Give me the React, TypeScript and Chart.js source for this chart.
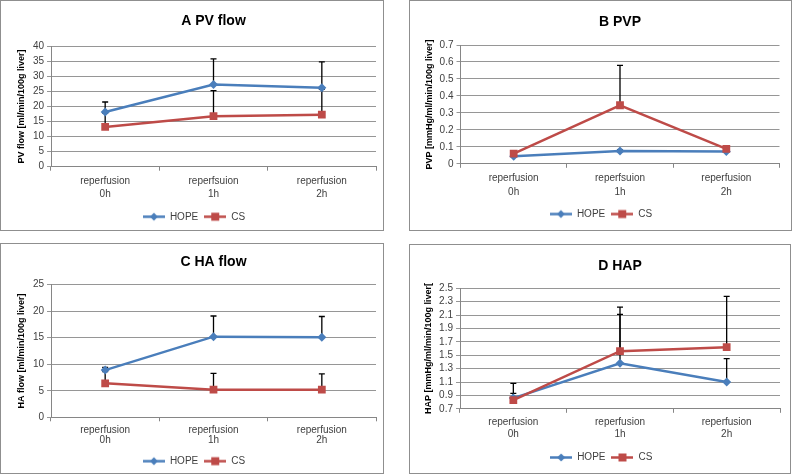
import React, { useEffect, useRef } from 'react';
import { Chart, registerables } from 'chart.js';

Chart.register(...registerables);

const FONT = "'Liberation Sans', Arial, sans-serif";

const seriesNames = ['HOPE', 'CS'];
const seriesColors = ['#4A7EBB', '#BE4B48'];

const labelsAB = [['reperfusion', '0h'], ['reperfsuion', '1h'], ['reperfusion', '2h']];
const labelsCD = [['reperfusion', '0h'], ['reperfusion', '1h'], ['reperfusion', '2h']];

// A PV flow
const pvFlowHope = [18.2, 27.3, 26.2];
const pvFlowHopeSd = [3.3, 8.5, 8.6];
const pvFlowCs = [13.2, 16.8, 17.3];
const pvFlowCsSd = [4.6, 8.5, 8.4];

// B PVP
const pvpHope = [0.045, 0.075, 0.072];
const pvpHopeSd = [0.005, 0.008, 0.008];
const pvpCs = [0.06, 0.345, 0.088];
const pvpCsSd = [0.008, 0.235, 0.008];

// C HA flow
const haFlowHope = [8.9, 15.2, 15.1];
const haFlowHopeSd = [0.5, 3.9, 3.9];
const haFlowCs = [6.4, 5.2, 5.2];
const haFlowCsSd = [2.2, 3.1, 3.0];

// D HAP
const hapHope = [0.86, 1.38, 1.1];
const hapHopeSd = [0.07, 0.73, 0.35];
const hapCs = [0.83, 1.56, 1.62];
const hapCsSd = [0.25, 0.66, 0.76];

type PanelCfg = {
  box: { left: number; top: number; width: number; height: number };
  title: string;
  yTitle: string;
  labels: string[][];
  hope: number[];
  hopeSd: number[];
  cs: number[];
  csSd: number[];
  yMin: number;
  yMax: number;
  yStep: number;
  pl: number; pr: number; pb: number;
  yWidth: number; yTitlePad: number;
  titlePadTop: number; titlePadBottom: number;
  xHeight: number; xPad: number; xLineHeight: number;
};

const panels: PanelCfg[] = [
  {
    box: { left: 0, top: 0, width: 384, height: 231 },
    title: 'A PV flow', yTitle: 'PV flow [ml/min/100g liver]', labels: labelsAB,
    hope: pvFlowHope, hopeSd: pvFlowHopeSd, cs: pvFlowCs, csSd: pvFlowCsSd,
    yMin: 0, yMax: 40, yStep: 5,
    pl: 11, pr: 7, pb: -1.75, yWidth: 39, yTitlePad: 4.6,
    titlePadTop: 11.9, titlePadBottom: 16.6, xHeight: 39.05, xPad: 3.45, xLineHeight: 13.5,
  },
  {
    box: { left: 409, top: 0, width: 383, height: 231 },
    title: 'B PVP', yTitle: 'PVP [mmHg/ml/min/100g liver]', labels: labelsAB,
    hope: pvpHope, hopeSd: pvpHopeSd, cs: pvpCs, csSd: pvpCsSd,
    yMin: 0, yMax: 0.7, yStep: 0.1,
    pl: 12.5, pr: 11.5, pb: 0.95, yWidth: 38, yTitlePad: 1.4,
    titlePadTop: 12.3, titlePadBottom: 14.9, xHeight: 39.25, xPad: 4.05, xLineHeight: 13.3,
  },
  {
    box: { left: 0, top: 243, width: 384, height: 231 },
    title: 'C HA flow', yTitle: 'HA flow [ml/min/100g liver]', labels: labelsCD,
    hope: haFlowHope, hopeSd: haFlowHopeSd, cs: haFlowCs, csSd: haFlowCsSd,
    yMin: 0, yMax: 25, yStep: 5,
    pl: 11, pr: 7, pb: -3.15, yWidth: 39, yTitlePad: 4.6,
    titlePadTop: 9.6, titlePadBottom: 14.3, xHeight: 32.85, xPad: 3.1, xLineHeight: 10.8,
  },
  {
    box: { left: 409, top: 244, width: 382, height: 230 },
    title: 'D HAP', yTitle: 'HAP [mmHg/ml/min/100g liver[', labels: labelsCD,
    hope: hapHope, hopeSd: hapHopeSd, cs: hapCs, csSd: hapCsSd,
    yMin: 0.7, yMax: 2.5, yStep: 0.2,
    pl: 12.5, pr: 10, pb: 0.55, yWidth: 37.5, yTitlePad: 1.1,
    titlePadTop: 12.6, titlePadBottom: 13.9, xHeight: 37.65, xPad: 3.6, xLineHeight: 11.6,
  },
];

function makeErrorBars(errors: number[][]) {
  return {
    id: 'errorBars',
    beforeDatasetsDraw(chart: any) {
      const y = chart.scales.y;
      const ctx = chart.ctx;
      ctx.save();
      ctx.strokeStyle = '#000000';
      ctx.lineWidth = 1.3;
      chart.data.datasets.forEach((ds: any, i: number) => {
        const meta = chart.getDatasetMeta(i);
        meta.data.forEach((pt: any, j: number) => {
          const v = ds.data[j];
          const e = errors[i][j];
          if (!e) return;
          const y0 = y.getPixelForValue(v);
          const y1 = y.getPixelForValue(v + e);
          const x = pt.x;
          ctx.beginPath();
          ctx.moveTo(x, y0);
          ctx.lineTo(x, y1);
          ctx.moveTo(x - 3, y1);
          ctx.lineTo(x + 3, y1);
          ctx.stroke();
        });
      });
      ctx.restore();
    },
  };
}

function makeLegendIcon(color: string, kind: 'diamond' | 'square') {
  const c = document.createElement('canvas');
  c.width = 22;
  c.height = 11;
  const ctx = c.getContext('2d')!;
  ctx.strokeStyle = color;
  ctx.lineWidth = 2.5;
  ctx.beginPath();
  ctx.moveTo(0, 5.5);
  ctx.lineTo(22, 5.5);
  ctx.stroke();
  ctx.fillStyle = color;
  ctx.beginPath();
  if (kind === 'diamond') {
    ctx.moveTo(11, 1.5);
    ctx.lineTo(15, 5.5);
    ctx.lineTo(11, 9.5);
    ctx.lineTo(7, 5.5);
    ctx.closePath();
  } else {
    ctx.rect(7, 1.5, 8, 8);
  }
  ctx.fill();
  return c;
}

function fmt(v: number) {
  return Number(Number(v).toFixed(2)).toString();
}

function Panel({ cfg }: { cfg: PanelCfg }) {
  const ref = useRef<HTMLCanvasElement | null>(null);
  const w = cfg.box.width - 2;
  const h = cfg.box.height - 2;

  useEffect(() => {
    const canvas = ref.current!;
    const icons = [makeLegendIcon(seriesColors[0], 'diamond'), makeLegendIcon(seriesColors[1], 'square')];
    const chart = new Chart(canvas, {
      type: 'line',
      data: {
        labels: cfg.labels as any,
        datasets: [
          {
            label: seriesNames[0],
            data: cfg.hope,
            borderColor: seriesColors[0],
            backgroundColor: seriesColors[0],
            borderWidth: 2.5,
            pointStyle: 'rectRot',
            pointRadius: 4.5,
            pointBorderWidth: 0,
            pointBackgroundColor: seriesColors[0],
            tension: 0,
            order: 1,
          },
          {
            label: seriesNames[1],
            data: cfg.cs,
            borderColor: seriesColors[1],
            backgroundColor: seriesColors[1],
            borderWidth: 2.5,
            pointStyle: 'rect',
            pointRadius: 5.5,
            pointBorderWidth: 0,
            pointBackgroundColor: seriesColors[1],
            tension: 0,
            order: 0,
          },
        ],
      },
      options: {
        responsive: false,
        animation: false,
        devicePixelRatio: 1,
        layout: { padding: { left: cfg.pl, right: cfg.pr, top: 0, bottom: cfg.pb } },
        plugins: {
          tooltip: { enabled: false },
          title: {
            display: true,
            text: cfg.title,
            fullSize: false,
            color: '#000000',
            font: { family: FONT, size: 14, weight: 'bold', lineHeight: 1.2 },
            padding: { top: cfg.titlePadTop, bottom: cfg.titlePadBottom },
          },
          legend: {
            display: true,
            position: 'bottom',
            labels: {
              usePointStyle: true,
              pointStyleWidth: 22,
              padding: 6,
              color: '#404040',
              font: { family: FONT, size: 10 },
              generateLabels: (ch: any) =>
                ch.data.datasets.map((ds: any, i: number) => ({
                  text: ds.label,
                  pointStyle: icons[i],
                  fillStyle: seriesColors[i],
                  strokeStyle: seriesColors[i],
                  lineWidth: 0,
                  hidden: false,
                  datasetIndex: i,
                  fontColor: '#404040',
                })),
            },
          },
        },
        scales: {
          x: {
            type: 'category',
            offset: true,
            grid: {
              drawOnChartArea: false,
              drawTicks: true,
              tickLength: 4,
              offset: true,
              color: '#868686',
            },
            border: { color: '#868686', width: 1 },
            ticks: {
              autoSkip: false,
              maxRotation: 0,
              minRotation: 0,
              padding: cfg.xPad,
              color: '#404040',
              font: { family: FONT, size: 10, lineHeight: cfg.xLineHeight / 10 },
            },
            afterFit: (scale: any) => {
              scale.height = cfg.xHeight;
            },
          },
          y: {
            type: 'linear',
            min: cfg.yMin,
            max: cfg.yMax,
            grid: { color: '#969696', tickLength: 4, lineWidth: 1 },
            border: { color: '#868686', width: 1 },
            ticks: {
              stepSize: cfg.yStep,
              autoSkip: false,
              padding: 3,
              color: '#404040',
              font: { family: FONT, size: 10 },
              callback: (v: any) => fmt(v),
            },
            title: {
              display: true,
              text: cfg.yTitle,
              color: '#000000',
              font: { family: FONT, size: 9, weight: 'bold', lineHeight: 1.2 },
              padding: { top: cfg.yTitlePad, bottom: 0 },
            },
            afterFit: (scale: any) => {
              scale.width = cfg.yWidth;
            },
          },
        },
      } as any,
      plugins: [makeErrorBars([cfg.hopeSd, cfg.csSd])],
    });
    return () => chart.destroy();
  }, [cfg]);

  return (
    <div
      style={{
        position: 'absolute',
        left: cfg.box.left,
        top: cfg.box.top,
        width: cfg.box.width,
        height: cfg.box.height,
        border: '1px solid #8f8f8f',
        boxSizing: 'border-box',
        background: '#ffffff',
      }}
    >
      <canvas ref={ref} width={w} height={h} style={{ display: 'block', width: w, height: h }} />
    </div>
  );
}

export default function App() {
  return (
    <div style={{ position: 'absolute', left: 0, top: 0, width: 793, height: 475, background: '#ffffff' }}>
      {panels.map((p, i) => (
        <Panel key={i} cfg={p} />
      ))}
    </div>
  );
}
